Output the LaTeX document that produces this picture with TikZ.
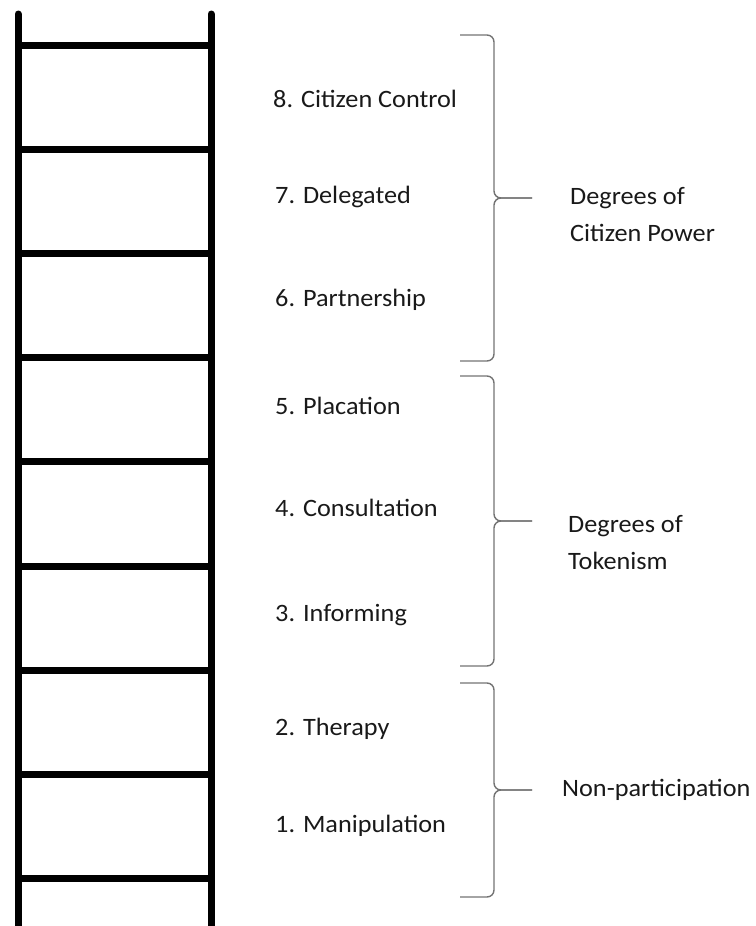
\documentclass[tikz,border=0pt]{standalone}
\usepackage{fontspec}
\setmainfont{Carlito}[FakeStretch=1.05]
\usetikzlibrary{positioning}
\tikzset{rail/.style={black, line width=7pt, line cap=round},
  rung/.style={black, line width=7pt},
  curly/.style={black!55, line width=1.4pt, rounded corners=7pt},
  rungtext/.style={anchor=west, inner sep=0pt, text=black!90, font=\fontsize{25}{30}\selectfont},
  grouptext/.style={anchor=west, inner sep=0pt, text=black!90, align=left, font=\fontsize{25}{37}\selectfont}}

\begin{document}
\begin{tikzpicture}[x=1pt,y=-1pt]
  \useasboundingbox (0,0) rectangle (755,926);

  % ladder
  \draw[rail] (18,14) -- (18,940);
  \draw[rail] (211,14) -- (211,940);
  \foreach \y in {45,149,253,357,461,566,670,774,878}
    \draw[rung] (18,\y) -- (211,\y);

  % rungs
  \node[rungtext] (r8) at (273, 99) {8. Citizen Control};
  \node[rungtext] (r7) at (275,197) {7. Delegated};
  \node[rungtext] (r6) at (275,300) {6. Partnership};
  \node[rungtext] (r5) at (275,406) {5. Placation};
  \node[rungtext] (r4) at (275,508) {4. Consultation};
  \node[rungtext] (r3) at (275,615) {3. Informing};
  \node[rungtext] (r2) at (275,729) {2. Therapy};
  \node[rungtext] (r1) at (275,826) {1. Manipulation};

  % groups
  \coordinate (p) at (532,198);
  \coordinate (q) at (532,521);
  \coordinate (s) at (532,790);
  \node[grouptext] (power) at (570,215) {Degrees of\\Citizen Power};
  \node[grouptext] (token) at (568,543) {Degrees of\\Tokenism};
  \node[grouptext] (nonp)  at (562,790) {Non-participation};

  \draw[curly] (460, 35) -- (494, 35) -- (494,198) -- (p);
  \draw[curly] (460,361) -- (494,361) -- (494,198) -- (p);
  \draw[curly] (460,376) -- (494,376) -- (494,521) -- (q);
  \draw[curly] (460,666) -- (494,666) -- (494,521) -- (q);
  \draw[curly] (460,683) -- (494,683) -- (494,790) -- (s);
  \draw[curly] (460,897) -- (494,897) -- (494,790) -- (s);
 \end{tikzpicture}
\end{document}
